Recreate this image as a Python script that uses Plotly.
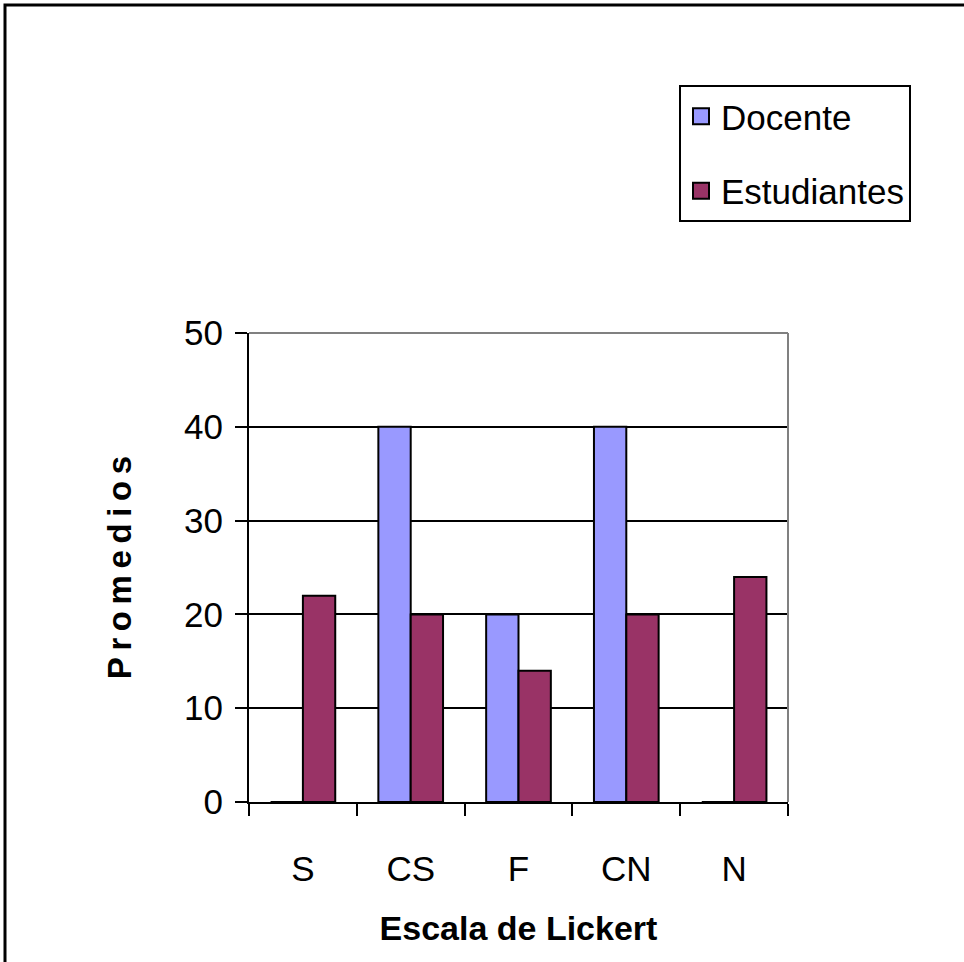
import plotly.graph_objects as go

categories = ["S", "CS", "F", "CN", "N"]
docente = [0, 40, 20, 40, 0]
estudiantes = [22, 20, 14, 20, 24]
series_names = ["Docente", "Estudiantes"]
series_colors = ["#9999FF", "#993366"]
y_ticks = [0, 10, 20, 30, 40, 50]

W, H = 964, 962
L, R, T, B = 249, 788, 333, 802
pw, ph = R - L, B - T

def px_x(x):
    return (x - L) / pw

def px_y(y):
    return (B - y) / ph

FONT = "Liberation Sans, Arial, sans-serif"

fig = go.Figure()
for name, vals, col in zip(series_names, [docente, estudiantes], series_colors):
    fig.add_trace(go.Bar(x=categories, y=vals, name=name, showlegend=False,
                         marker=dict(color=col, line=dict(color="black", width=2))))
# legend entries with larger square swatches
for i, (name, col) in enumerate(zip(series_names, series_colors)):
    fig.add_trace(go.Scatter(x=[None], y=[None], mode="markers", name=name,
                             legendgroup=str(i),
                             marker=dict(symbol="square", size=17, color=col,
                                         line=dict(color="black", width=2))))

fig.update_layout(
    width=W, height=H, autosize=False,
    margin=dict(l=L, r=W - R, t=T, b=H - B, pad=0),
    paper_bgcolor="white", plot_bgcolor="white",
    barmode="group", bargap=0.4, bargroupgap=0,
    font=dict(family=FONT, color="black", size=34),
    showlegend=True,
    legend=dict(x=px_x(679), y=px_y(85), xanchor="left", yanchor="top",
                bordercolor="black", borderwidth=2, bgcolor="white",
                font=dict(size=35), tracegroupgap=26,
                traceorder="grouped", itemwidth=30),
    xaxis=dict(type="category", tickson="boundaries", ticks="outside", ticklen=12,
               tickwidth=2, tickcolor="black", showline=True, linecolor="black",
               linewidth=2, showgrid=False, tickfont=dict(size=35),
               ticklabelstandoff=35,
               title=dict(text="<b>Escala de Lickert</b>", font=dict(size=34), standoff=29)),
    yaxis=dict(range=[0, 50], tickvals=y_ticks, ticks="outside", ticklen=12,
               tickwidth=2, tickcolor="black", showline=True, linecolor="black",
               linewidth=2, showgrid=True, gridcolor="black", gridwidth=2,
               zeroline=False, tickfont=dict(size=35), ticklabelstandoff=5,
               title=dict(text="<b>P\u2009r\u2009o\u2009m\u2009e\u2009d\u2009i\u2009o\u2009s</b>",
                          font=dict(size=33), standoff=43)),
    shapes=[
        dict(type="line", xref="paper", yref="paper", x0=0, x1=1, y0=1, y1=1,
             line=dict(color="#808080", width=2), layer="above"),
        dict(type="line", xref="paper", yref="paper", x0=1, x1=1, y0=0, y1=1,
             line=dict(color="#808080", width=2), layer="above"),
        dict(type="rect", xref="paper", yref="paper",
             x0=px_x(5), x1=px_x(990), y0=px_y(990), y1=px_y(5),
             line=dict(color="black", width=3), fillcolor="rgba(0,0,0,0)", layer="above"),
    ],
)

fig.write_html("out.html", config={"displayModeBar": False},
               post_script="document.body.style.margin='0';document.body.style.overflow='hidden';")
